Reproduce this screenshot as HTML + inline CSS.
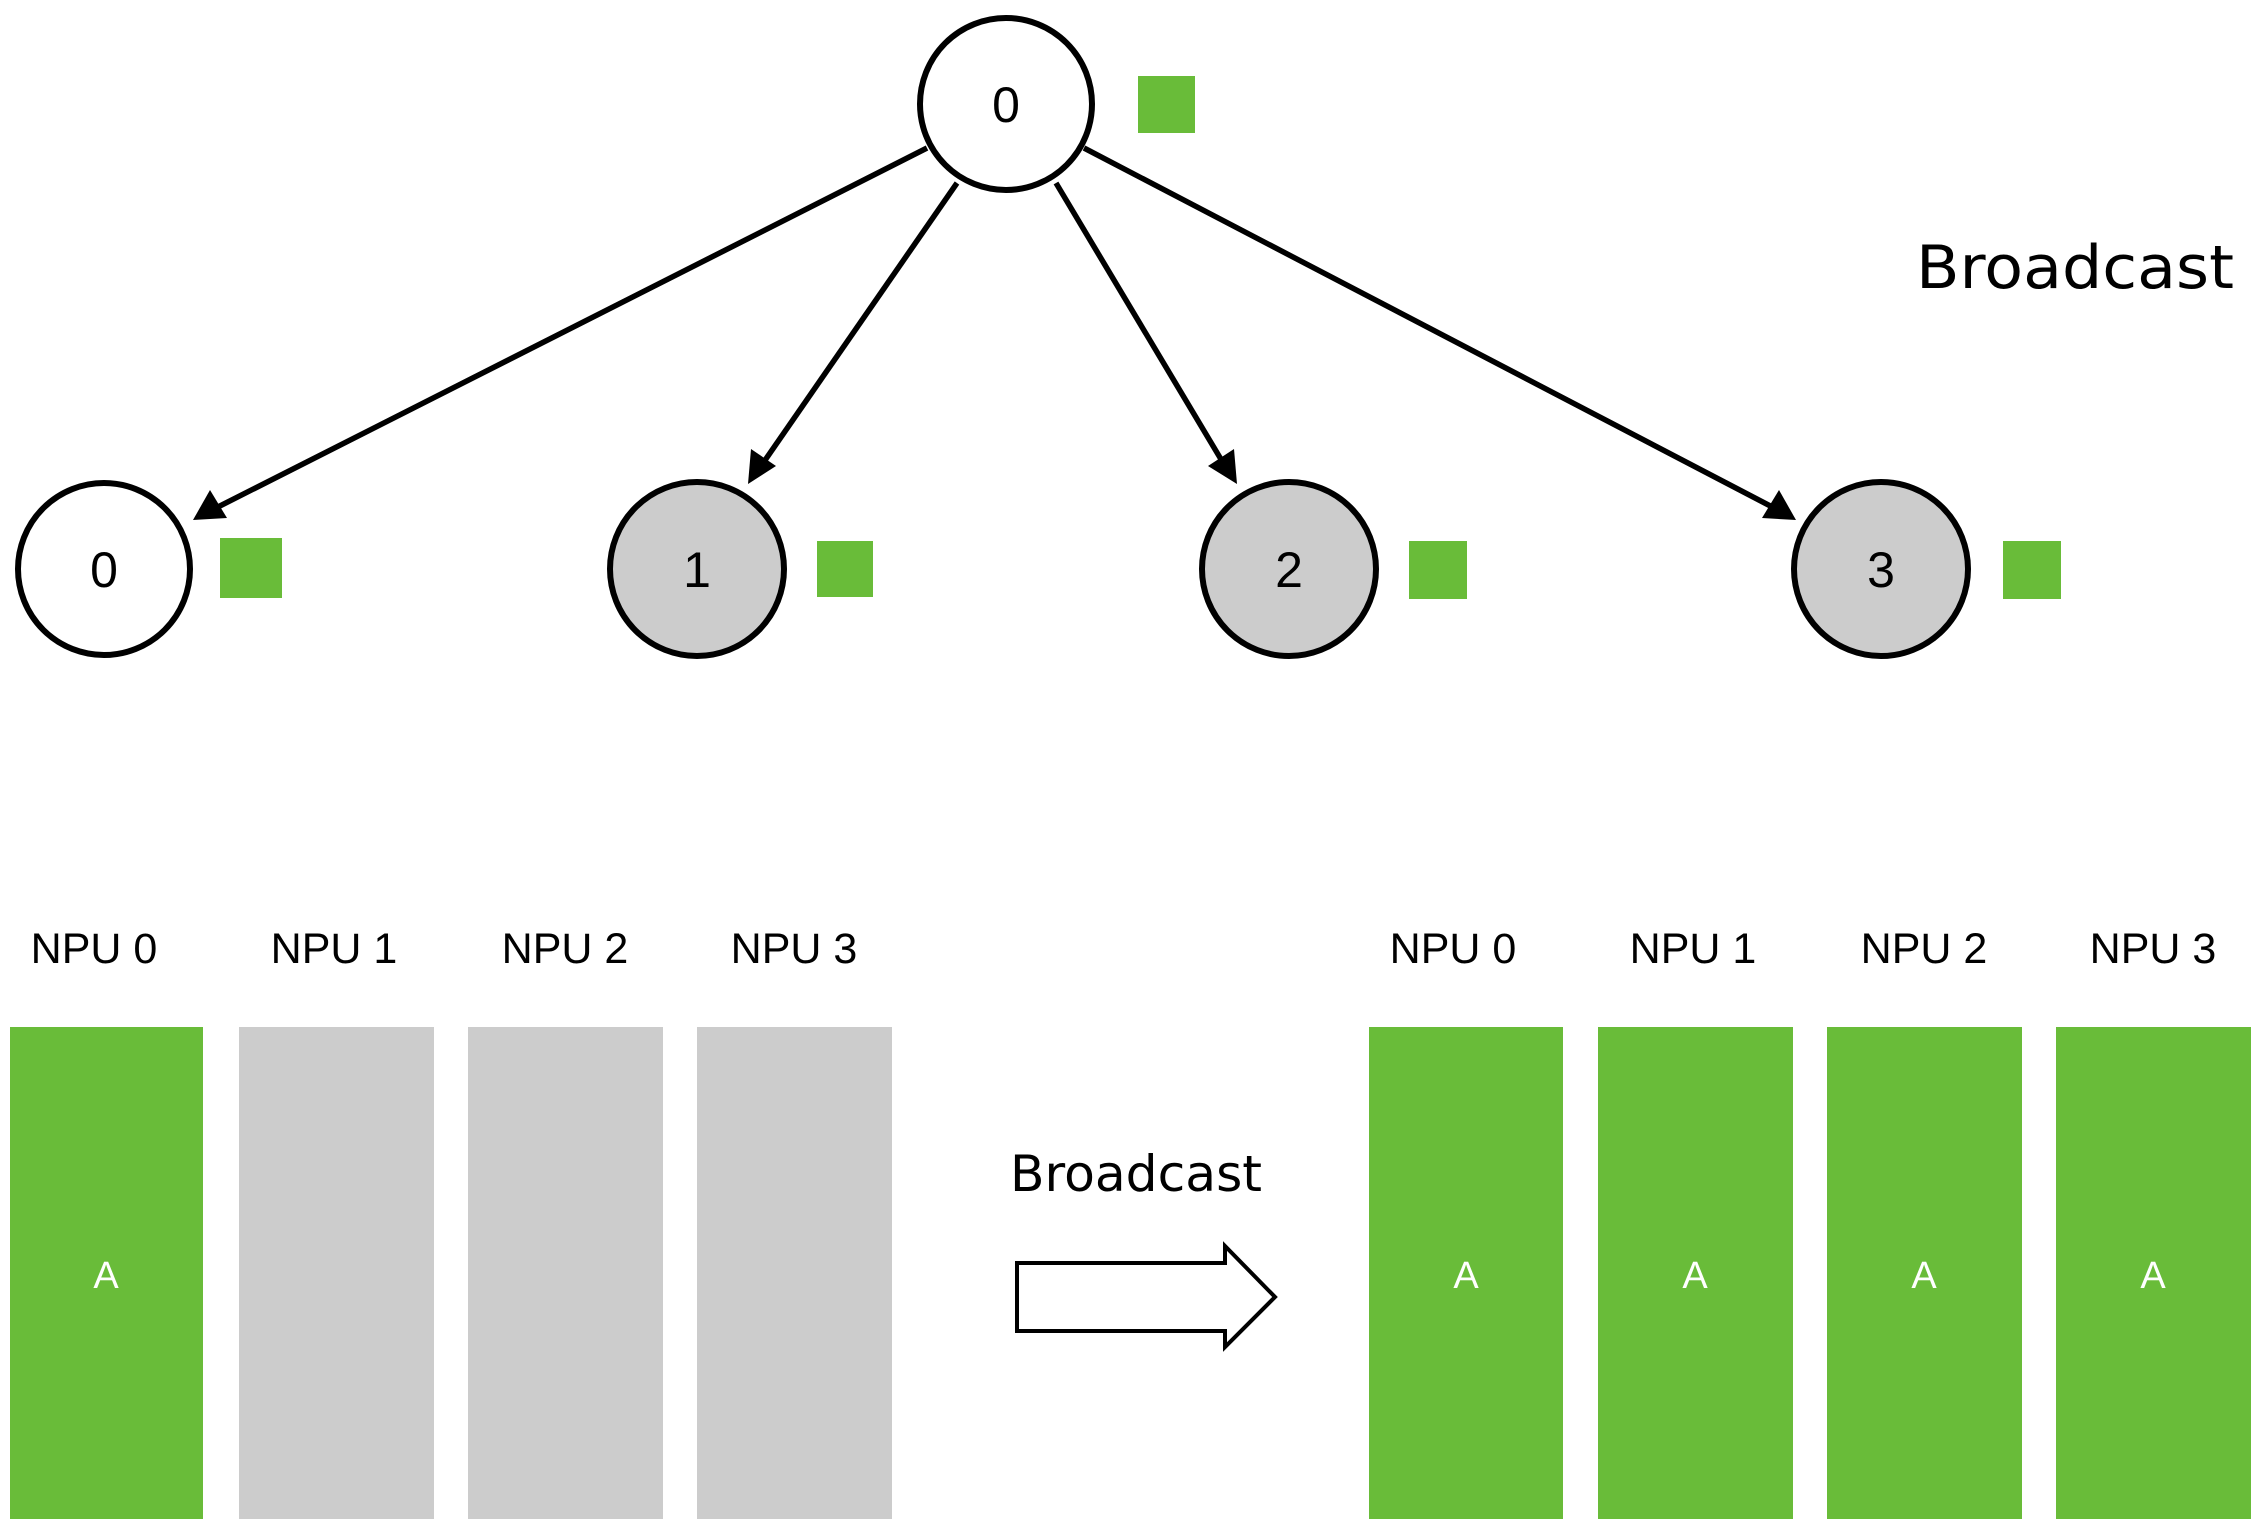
<!DOCTYPE html>
<html><head><meta charset="utf-8"><style>
html,body{margin:0;padding:0;background:#fff;}
svg{display:block;}
</style></head><body>
<svg width="2259" height="1526" viewBox="0 0 2259 1526" xmlns="http://www.w3.org/2000/svg">
<g stroke="#000" stroke-width="5.5" fill="none">
<line x1="927" y1="148" x2="212" y2="510"/>
<line x1="957" y1="183" x2="761" y2="466"/>
<line x1="1056" y1="183" x2="1225" y2="466"/>
<line x1="1084" y1="148" x2="1778" y2="510"/>
</g>
<g fill="#000">
<polygon points="193,520 210,490 227,518"/>
<polygon points="748,484 751,449 776,466"/>
<polygon points="1237,484 1208,466 1234,449"/>
<polygon points="1796,520 1762,518 1779,490"/>
</g>
<g stroke="#000" stroke-width="6">
<circle cx="1006" cy="104" r="86" fill="#fff"/>
<circle cx="104" cy="569" r="86" fill="#fff"/>
<circle cx="697" cy="569" r="87" fill="#ccc"/>
<circle cx="1289" cy="569" r="87" fill="#ccc"/>
<circle cx="1881" cy="569" r="87" fill="#ccc"/>
</g>
<g fill="#69bc39">
<rect x="1138" y="76" width="57" height="57"/>
<rect x="220" y="538" width="62" height="60"/>
<rect x="817" y="541" width="56" height="56"/>
<rect x="1409" y="541" width="58" height="58"/>
<rect x="2003" y="541" width="58" height="58"/>
</g>
<g font-family="Liberation Sans, sans-serif" font-size="50" text-anchor="middle" fill="#000">
<text x="1006" y="122">0</text>
<text x="104" y="587">0</text>
<text x="697" y="587">1</text>
<text x="1289" y="587">2</text>
<text x="1881" y="587">3</text>
</g>
<text x="2075" y="288" font-family="DejaVu Sans, sans-serif" font-size="60" text-anchor="middle" textLength="318" lengthAdjust="spacingAndGlyphs">Broadcast</text>
<g font-family="Liberation Sans, sans-serif" font-size="43" text-anchor="middle">
<text x="94" y="963">NPU 0</text>
<text x="334" y="963">NPU 1</text>
<text x="565" y="963">NPU 2</text>
<text x="794" y="963">NPU 3</text>
<text x="1453" y="963">NPU 0</text>
<text x="1693" y="963">NPU 1</text>
<text x="1924" y="963">NPU 2</text>
<text x="2153" y="963">NPU 3</text>
</g>
<rect x="10" y="1027" width="193" height="492" fill="#69bc39"/>
<rect x="239" y="1027" width="195" height="492" fill="#ccc"/>
<rect x="468" y="1027" width="195" height="492" fill="#ccc"/>
<rect x="697" y="1027" width="195" height="492" fill="#ccc"/>
<rect x="1369" y="1027" width="194" height="492" fill="#69bc39"/>
<rect x="1598" y="1027" width="195" height="492" fill="#69bc39"/>
<rect x="1827" y="1027" width="195" height="492" fill="#69bc39"/>
<rect x="2056" y="1027" width="195" height="492" fill="#69bc39"/>
<g font-family="Liberation Sans, sans-serif" font-size="38" text-anchor="middle" fill="#fff">
<text x="106" y="1288">A</text>
<text x="1466" y="1288">A</text>
<text x="1695" y="1288">A</text>
<text x="1924" y="1288">A</text>
<text x="2153" y="1288">A</text>
</g>
<text x="1136" y="1191" font-family="DejaVu Sans, sans-serif" font-size="50" text-anchor="middle" textLength="252" lengthAdjust="spacingAndGlyphs">Broadcast</text>
<polygon points="1017,1263 1225,1263 1225,1246 1275,1297 1225,1347 1225,1331 1017,1331" fill="#fff" stroke="#000" stroke-width="4"/>
</svg>
</body></html>
